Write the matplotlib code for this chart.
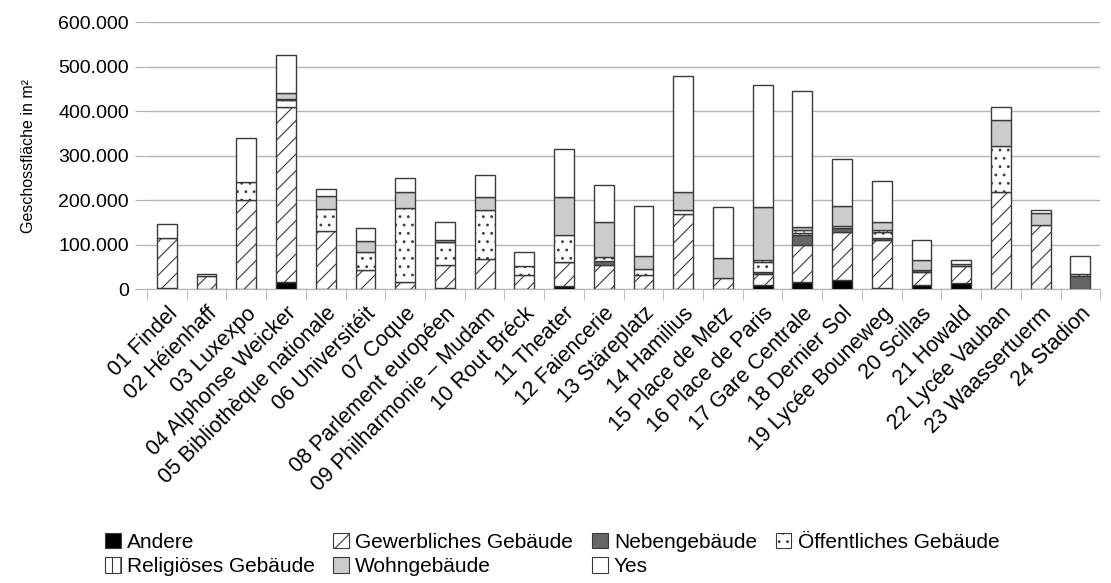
import numpy as np
import matplotlib
matplotlib.use("Agg")
import matplotlib.pyplot as plt
from matplotlib.patches import Patch
from matplotlib.ticker import FuncFormatter

plt.rcParams["font.family"] = ["Liberation Sans", "DejaVu Sans"]
plt.rcParams["hatch.linewidth"] = 0.8

# ---------------------------------------------------------------------------
# Data: floor area per station (m²)
# ---------------------------------------------------------------------------
stations = ["01 Findel", "02 Héienhaff", "03 Luxexpo", "04 Alphonse Weicker",
            "05 Bibliothèque nationale", "06 Universitéit", "07 Coque",
            "08 Parlement européen", "09 Philharmonie – Mudam", "10 Rout Bréck",
            "11 Theater", "12 Faiencerie", "13 Stäreplatz", "14 Hamilius",
            "15 Place de Metz", "16 Place de Paris", "17 Gare Centrale",
            "18 Dernier Sol", "19 Lycée Bouneweg", "20 Scillas", "21 Howald",
            "22 Lycée Vauban", "23 Waassertuerm", "24 Stadion"]

andere = [3000, 0, 1000, 15000, 0, 0, 0, 3000, 0, 0, 6000, 0,
          0, 0, 0, 9000, 16000, 20000, 3000, 9000, 14000, 0, 0, 0]
gewerblich = [113000, 29000, 199000, 395000, 130000, 44000, 17000, 52000,
              68000, 31000, 54000, 54000, 31000, 168000, 25000, 25000,
              83000, 109000, 108000, 29000, 38000, 219000, 145000, 0]
neben = [0, 0, 0, 0, 0, 0, 0, 0, 0, 0, 2000, 9000,
         0, 0, 0, 5000, 22000, 8000, 3000, 5000, 0, 0, 0, 30000]
oeffentlich = [0, 0, 41000, 15000, 50000, 40000, 165000, 50000, 110000,
               22000, 60000, 10000, 14000, 11000, 0, 23000, 6000, 5000,
               15000, 0, 0, 102000, 0, 0]
religioes = [0, 0, 0, 3000, 0, 0, 0, 2000, 0, 0, 0, 0,
             0, 0, 0, 3000, 7000, 0, 4000, 0, 0, 0, 0, 4000]
wohn = [0, 0, 0, 12000, 29000, 24000, 36000, 3000, 28000, 0, 84000, 77000,
        29000, 39000, 45000, 119000, 6000, 46000, 17000, 22000, 5000, 60000,
        27000, 0]
yes = [30000, 4000, 99000, 87000, 16000, 30000, 31000, 40000, 51000, 31000,
       110000, 85000, 114000, 260000, 114000, 274000, 306000, 105000, 93000,
       45000, 8000, 29000, 5000, 40000]

# (label, values, face colour, hatch)
series = [
    ("Andere", andere, "#000000", None),
    ("Gewerbliches Gebäude", gewerblich, "#ffffff", "//"),
    ("Nebengebäude", neben, "#666666", None),
    ("Öffentliches Gebäude", oeffentlich, "#ffffff", ".."),
    ("Religiöses Gebäude", religioes, "#ffffff", "||"),
    ("Wohngebäude", wohn, "#cccccc", None),
    ("Yes", yes, "#ffffff", None),
]

EDGE = "#3a3a3a"
GRID = "#b3b3b3"

fig = plt.figure(figsize=(11.11, 5.83), dpi=100)
ax = fig.add_axes([0.1323, 0.504, 0.858, 0.458])

x = np.arange(len(stations))
bottom = np.zeros(len(stations))
for label, vals, face, hatch in series:
    vals = np.array(vals, dtype=float)
    m = vals > 0
    ax.bar(x[m], vals[m], width=0.5, bottom=bottom[m], color=face,
           edgecolor=EDGE, hatch=hatch, linewidth=1.0, zorder=3)
    bottom += vals

ax.set_xlim(-0.5, len(stations) - 0.5)
ax.set_ylim(0, 600000)
ax.set_yticks(np.arange(0, 600001, 100000))
ax.yaxis.set_major_formatter(
    FuncFormatter(lambda v, _: f"{int(v):,}".replace(",", ".")))
ax.grid(axis="y", color=GRID, linewidth=1.0, zorder=0)
ax.tick_params(axis="y", length=9, color=GRID, labelsize=14, pad=4)

ax.set_xticks(x)
ax.set_xticklabels(stations, rotation=45, ha="right", rotation_mode="anchor",
                   fontsize=15.5)
ax.set_xticks(np.arange(-0.5, len(stations)), minor=True)
ax.tick_params(axis="x", which="major", length=0, pad=10)
ax.tick_params(axis="x", which="minor", length=8, color=GRID)

for side in ("top", "right", "left"):
    ax.spines[side].set_visible(False)
ax.spines["bottom"].set_color(GRID)

fig.text(0.026, 0.733, "Geschossfläche in m²", rotation=90,
         ha="center", va="center", fontsize=11.5)

handles = [Patch(facecolor=face, edgecolor=EDGE, hatch=hatch, linewidth=0.8,
                 label=label) for label, _, face, hatch in series]
# reorder so that the legend fills row by row with 4 columns
order = [0, 4, 1, 5, 2, 6, 3]
fig.legend([handles[i] for i in order], [series[i][0] for i in order],
           ncol=4, loc="upper left", bbox_to_anchor=(0.087, 0.1),
           frameon=False, fontsize=15, handlelength=0.75, handleheight=0.75,
           handletextpad=0.3, columnspacing=0.9, labelspacing=0.25,
           borderaxespad=0)

fig.savefig("out.png", dpi=100)
